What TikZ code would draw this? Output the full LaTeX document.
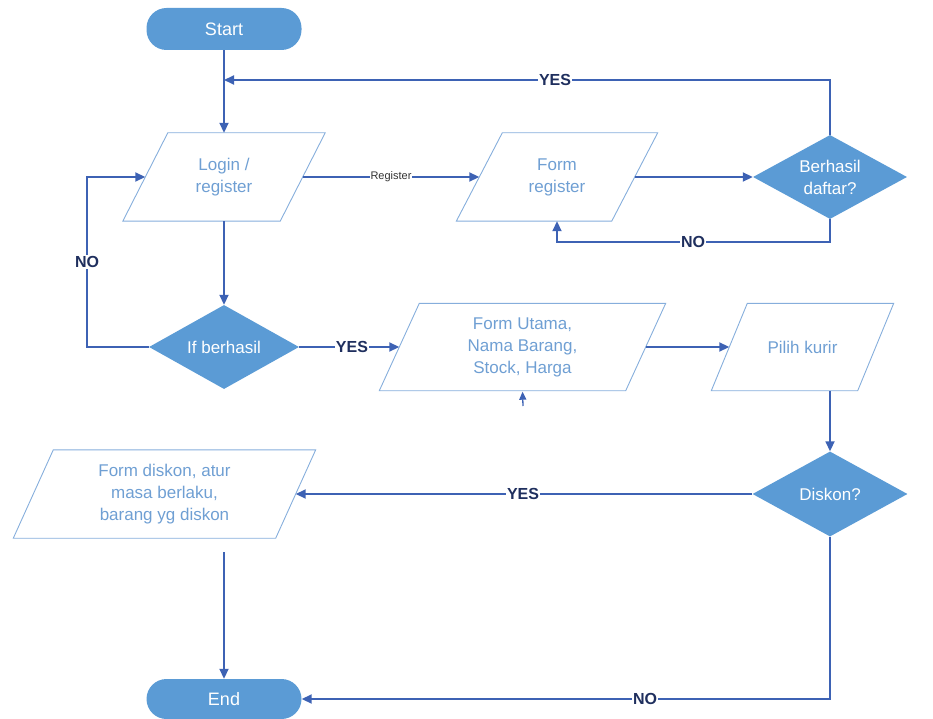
\documentclass[tikz,border=0pt]{standalone}
\usepackage{fontspec}
\setmainfont{Liberation Sans}
\usetikzlibrary{shapes.geometric,arrows.meta}
\definecolor{fillblue}{HTML}{5B9BD5}
\definecolor{lineblue}{HTML}{3D62B4}
\definecolor{txtblue}{HTML}{6F9FD3}
\definecolor{edgeblue}{HTML}{86AEDC}
\definecolor{lblnavy}{HTML}{1F2F5E}
\newcommand{\parabox}[2]{\draw[draw=edgeblue,line width=0.9pt,line join=miter]
  ([xshift=#2pt]#1.north west) -- ([xshift=#2pt]#1.north east) --
  ([xshift=-#2pt]#1.south east) -- ([xshift=-#2pt]#1.south west) -- cycle;}
\begin{document}
\begin{tikzpicture}[x=1pt,y=-1pt,
  term/.style={rectangle,rounded corners=20pt,fill=fillblue,text=white,
    minimum width=155pt,minimum height=42pt,inner sep=0pt,
    font=\fontsize{18}{20}\selectfont},
  io/.style={rectangle,text=txtblue,align=center,minimum height=88pt,inner sep=0pt,
    font=\fontsize{17}{22}\selectfont},
  decide/.style={diamond,aspect=1.83,fill=fillblue,text=white,align=center,
    minimum width=154pt,minimum height=84pt,inner sep=0pt,
    font=\fontsize{17}{22}\selectfont},
  conn/.style={draw=lineblue,line width=1.8pt,-{Triangle[length=10pt,width=9pt]}},
  lbl/.style={fill=white,text=lblnavy,inner sep=1pt,
    font=\bfseries\fontsize{16}{16}\selectfont},
  smalllbl/.style={fill=white,text=black!80,inner sep=1pt,
    font=\fontsize{11}{11}\selectfont}
]
\useasboundingbox (0,0) rectangle (933,719);

% nodes
\node[term] (start) at (224,29) {Start};
\node[io,minimum width=157pt] (login) at (224,177) {Login /\\register};
\node[io,minimum width=155pt] (reg) at (557,177) {Form\\register};
\node[decide] (berhasil) at (830,177) {Berhasil\\daftar?};
\node[decide,minimum width=150pt] (ifb) at (224,347) {If berhasil};
\node[io,minimum width=246pt,minimum height=87pt] (utama) at (522.5,347) {Form Utama,\\Nama Barang,\\Stock, Harga};
\node[io,minimum width=146pt,minimum height=87pt] (kurir) at (802.5,347) {Pilih kurir};
\node[decide,minimum width=155pt,minimum height=85pt] (diskon) at (830,494) {Diskon?};
\node[io,minimum width=262pt] (fdiskon) at (164.5,494) {Form diskon, atur\\masa berlaku,\\barang yg diskon};
\node[term,minimum height=40pt] (end) at (224,699) {End};

% parallelogram outlines
\parabox{login}{22.5}
\parabox{reg}{23}
\parabox{utama}{20}
\parabox{kurir}{18}
\parabox{fdiskon}{20}

% helper coordinates
\coordinate (yesjoin) at (224,80);
\coordinate (noreg) at (557,242);
\coordinate (noleft) at (87,347);
\coordinate (stub) at (523,406);

% connectors
\draw[conn] (start) -- (login);
\draw[conn] (berhasil.north) |- (yesjoin);
\node[lbl] (lyes1) at (555,80) {YES};
\draw[conn] (login.east) -- (reg.west)
  node[smalllbl,pos=0.5] (lreg) {Register};
\draw[conn] (reg.east) -- (berhasil.west);
\draw[conn] (berhasil.south) |- (noreg) -- (reg.south);
\node[lbl] (lno1) at (693,242) {NO};
\draw[conn] (login.south) -- (ifb.north);
\draw[conn] (ifb.west) -- (noleft) |- (login.west);
\node[lbl] (lno2) at (87,262) {NO};
\draw[conn] (ifb.east) -- (utama.west);
\node[lbl] (lyes2) at (352,347) {YES};
\draw[conn] (utama.east) -- (kurir.west);
\draw[draw=lineblue,line width=1.3pt,-{Triangle[length=8pt,width=7pt]}] (stub) -- ([yshift=-1pt]utama.south);
\draw[conn] (diskon.north |- kurir.south) -- (diskon.north);
\draw[conn] (diskon.west) -- (fdiskon.east);
\node[lbl] (lyes3) at (523,494) {YES};
\draw[conn,shorten <=14pt] (end.north |- fdiskon.south) -- (end.north);
\draw[conn] (diskon.south) |- (end.east);
\node[lbl] (lno3) at (645,699) {NO};
\end{tikzpicture}
\end{document}
